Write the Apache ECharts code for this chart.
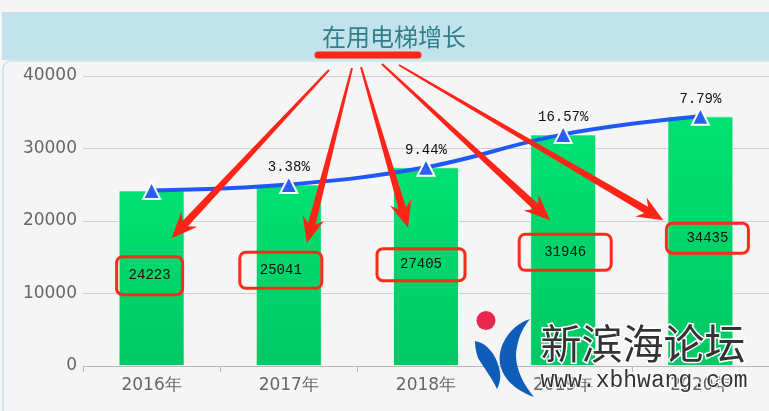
<!DOCTYPE html>
<html>
<head>
<meta charset="utf-8">
<script src="https://cdn.jsdelivr.net/npm/echarts@6/dist/echarts.min.js"></script>
<style>
html,body{margin:0;padding:0;background:#f5f5f5;}
#main{width:769px;height:411px;}
</style>
</head>
<body>
<div id="main"></div>
<script>
// ---- data ----
var categories = ['2016年', '2017年', '2018年', '2019年', '2020年'];
var elevatorCounts = [24223, 25041, 27405, 31946, 34435];
var growthLabels = ['', '3.38%', '9.44%', '16.57%', '7.79%'];
var yTicks = [0, 10000, 20000, 30000, 40000];

// ---- annotation styling (hand-drawn overlay look) ----
var boxStyle = [
  {off: [-2, -2.5], pad: [12, 12]},
  {off: [-8, -5], pad: [11, 20]},
  {off: [-5, -2], pad: [9, 23]},
  {off: [2, 2], pad: [11, 25]},
  {off: [7, -3], pad: [8, 20]}
];
var arrowStarts = [[329, 70], [352, 68], [361, 67], [382, 64], [399, 65]];
var arrowTipOffsets = [[20, -40], [18, -32], [-18, -39], [-13, -30], [-37, -21]];

var chart = echarts.init(document.getElementById('main'));

var barData = elevatorCounts.map(function (v, i) {
  return {
    value: v,
    label: {
      offset: boxStyle[i].off,
      padding: boxStyle[i].pad
    }
  };
});

var option = {
  backgroundColor: '#f5f5f5',
  animation: false,
  grid: {left: 83, width: 690, top: 76, bottom: 45},
  xAxis: {
    type: 'category',
    data: categories,
    axisLine: {lineStyle: {color: '#b8b8b8', width: 1}},
    axisTick: {show: true, length: 6, lineStyle: {color: '#b8b8b8'}},
    axisLabel: {color: '#666', fontSize: 17, fontFamily: 'DejaVu Sans', margin: 11}
  },
  yAxis: {
    type: 'value',
    min: yTicks[0],
    max: yTicks[yTicks.length - 1],
    interval: yTicks[1] - yTicks[0],
    axisLine: {show: false},
    axisTick: {show: false},
    axisLabel: {color: '#666', fontSize: 17, fontFamily: 'DejaVu Sans', margin: 6,
      formatter: function (v) { return String(v); }},
    splitLine: {lineStyle: {color: '#cfcfcf', width: 1}}
  },
  series: [
    {
      type: 'bar',
      data: barData,
      barWidth: 66,
      itemStyle: {
        color: new echarts.graphic.LinearGradient(0, 0, 0, 1, [
          {offset: 0, color: '#00e172'},
          {offset: 1, color: '#00c864'}
        ]),
        borderColor: 'rgba(255,255,255,0.7)',
        borderWidth: 1
      },
      label: {
        show: true,
        position: 'inside',
        color: '#111',
        fontSize: 14,
        fontFamily: 'Liberation Mono',
        borderColor: '#ff2a1a',
        borderWidth: 3,
        borderRadius: 6
      },
      z: 2
    },
    {
      type: 'line',
      data: elevatorCounts,
      smooth: 0.4,
      symbol: 'triangle',
      symbolSize: 17,
      lineStyle: {color: '#2158f5', width: 4},
      itemStyle: {color: '#2d5fee', borderColor: '#fff', borderWidth: 2},
      label: {
        show: true,
        position: 'top',
        distance: 1,
        color: '#111',
        fontSize: 14,
        fontFamily: 'Liberation Mono',
        formatter: function (p) { return growthLabels[p.dataIndex]; }
      },
      z: 3
    }
  ]
};
chart.setOption(option);

function arrowShape(s, t) {
  var dx = t[0] - s[0], dy = t[1] - s[1];
  var len = Math.sqrt(dx * dx + dy * dy);
  var ux = dx / len, uy = dy / len;
  var nx = -uy, ny = ux;
  var headL = 26, headW = 11, w0 = 1, w1 = 3.8;
  var bx = t[0] - ux * headL, by = t[1] - uy * headL;
  var nbx = t[0] - ux * (headL - 6), nby = t[1] - uy * (headL - 6);
  return [
    [s[0] + nx * w0, s[1] + ny * w0],
    [nbx + nx * w1, nby + ny * w1],
    [bx + nx * headW, by + ny * headW],
    [t[0], t[1]],
    [bx - nx * headW, by - ny * headW],
    [nbx - nx * w1, nby - ny * w1],
    [s[0] - nx * w0, s[1] - ny * w0]
  ];
}

// sample cubic bezier segments into polygon points
function bez(p0, p1, p2, p3, n, out) {
  for (var k = 0; k <= n; k++) {
    var t = k / n, a = 1 - t;
    out.push([
      a * a * a * p0[0] + 3 * a * a * t * p1[0] + 3 * a * t * t * p2[0] + t * t * t * p3[0],
      a * a * a * p0[1] + 3 * a * a * t * p1[1] + 3 * a * t * t * p2[1] + t * t * t * p3[1]
    ]);
  }
  return out;
}

var graphics = [
  {type: 'rect', shape: {x: 2, y: 12, width: 767, height: 48}, style: {fill: '#c2e3eb'}, z: -10, silent: true},
  {type: 'rect', shape: {x: 3, y: 61, width: 790, height: 370, r: 8}, style: {fill: 'none', stroke: '#c9e2e9', lineWidth: 1.5}, z: -10, silent: true},
  {type: 'text', x: 394, y: 37, style: {text: '在用电梯增长', fill: '#2f7f8c', font: '24px "Noto Sans CJK SC"', textAlign: 'center', textVerticalAlign: 'middle'}, z: 10},
  {type: 'line', shape: {x1: 318, y1: 55, x2: 418, y2: 55}, style: {stroke: '#ff2418', lineWidth: 7, lineCap: 'round'}, z: 20}
];

elevatorCounts.forEach(function (v, i) {
  var c = chart.convertToPixel({gridIndex: 0}, [i, v / 2]);
  var tip = [c[0] + arrowTipOffsets[i][0], c[1] + arrowTipOffsets[i][1]];
  graphics.push({
    type: 'polygon',
    shape: {points: arrowShape(arrowStarts[i], tip)},
    style: {fill: '#ff2418'},
    z: 20
  });
});

// watermark
var wedge = [];
bez([475, 341], [487, 343], [497, 355], [500, 372], 10, wedge);
bez([500, 372], [501, 380], [499, 385], [497, 389], 6, wedge);
bez([497, 389], [492, 378], [484, 368], [478, 358], 8, wedge);
bez([478, 358], [476, 352], [475, 347], [475, 341], 5, wedge);
var crescent = [];
bez([530, 319], [508, 326], [495, 350], [501, 368], 12, crescent);
bez([501, 368], [506, 383], [520, 392], [534, 397], 10, crescent);
bez([534, 397], [521, 382], [513, 362], [517, 347], 10, crescent);
bez([517, 347], [519, 335], [524, 326], [530, 319], 8, crescent);

graphics.push(
  {type: 'circle', shape: {cx: 486, cy: 320.5, r: 9.5}, style: {fill: '#e8274f'}, z: 30},
  {type: 'polygon', shape: {points: wedge}, style: {fill: '#0f5db8'}, z: 30},
  {type: 'polygon', shape: {points: crescent}, style: {fill: '#0f5db8'}, z: 30},
  {type: 'text', x: 643, y: 343, style: {text: '新滨海论坛', fill: '#333', stroke: '#fff', lineWidth: 3, font: '41px "Noto Sans CJK SC"', textAlign: 'center', textVerticalAlign: 'middle'}, z: 30},
  {type: 'text', x: 644, y: 381, style: {text: 'www.xbhwang.com', fill: '#333', stroke: '#fff', lineWidth: 2, font: '23px "Liberation Mono"', textAlign: 'center', textVerticalAlign: 'middle'}, z: 30}
);

chart.setOption({graphic: graphics});
</script>
</body>
</html>
